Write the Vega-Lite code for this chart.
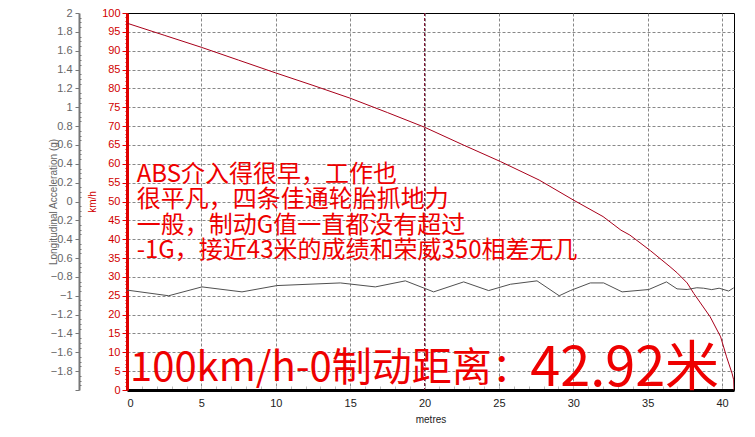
{
  "$schema": "https://vega.github.io/schema/vega-lite/v6.json",
  "width": 607,
  "height": 377,
  "autosize": {"type": "none"},
  "padding": {"left": 127, "top": 13, "right": 21, "bottom": 47},
  "background": "white",
  "config": {
    "view": {"stroke": "#000000", "strokeWidth": 1},
    "font": "Liberation Sans",
    "axis": {"labelFont": "Liberation Sans", "titleFont": "Liberation Sans", "labelOverlap": false, "labelBound": false}
  },
  "datasets": {
    "speed": [
      {"m": 0, "v": 97.3}, {"m": 2.5, "v": 94.1}, {"m": 5, "v": 90.9}, {"m": 7.5, "v": 87.5},
      {"m": 10, "v": 84.1}, {"m": 12.5, "v": 80.8}, {"m": 15, "v": 77.4}, {"m": 17.5, "v": 73.6},
      {"m": 20, "v": 69.7}, {"m": 22.6, "v": 65.0}, {"m": 25.1, "v": 60.6}, {"m": 27.7, "v": 55.7},
      {"m": 30, "v": 50.4}, {"m": 32, "v": 46.0}, {"m": 33.2, "v": 42.4}, {"m": 33.8, "v": 41.1},
      {"m": 35.2, "v": 36.9}, {"m": 36.5, "v": 32.7}, {"m": 37, "v": 31.0}, {"m": 37.65, "v": 28.4},
      {"m": 38.1, "v": 25.6}, {"m": 39.2, "v": 19.4}, {"m": 39.9, "v": 14.1}, {"m": 40.3, "v": 8.8},
      {"m": 40.67, "v": 4.4}, {"m": 40.78, "v": 2.7}, {"m": 40.8, "v": 0}
    ],
    "accel": [
      {"m": 0, "g": -0.94}, {"m": 2.8, "g": -1.0}, {"m": 5.04, "g": -0.906}, {"m": 7.73, "g": -0.959},
      {"m": 10.08, "g": -0.892}, {"m": 14.34, "g": -0.864}, {"m": 16.69, "g": -0.906}, {"m": 18.71, "g": -0.842},
      {"m": 20.05, "g": -0.924}, {"m": 20.61, "g": -0.959}, {"m": 22.63, "g": -0.853}, {"m": 24.31, "g": -0.945},
      {"m": 25.77, "g": -0.878}, {"m": 27.56, "g": -0.842}, {"m": 29.05, "g": -1.0}, {"m": 29.8, "g": -0.945},
      {"m": 31.14, "g": -0.864}, {"m": 32.04, "g": -0.864}, {"m": 33.28, "g": -0.959}, {"m": 35.07, "g": -0.934},
      {"m": 36.26, "g": -0.853}, {"m": 36.97, "g": -0.927}, {"m": 37.65, "g": -0.934}, {"m": 38.3, "g": -0.915},
      {"m": 38.76, "g": -0.92}, {"m": 39.3, "g": -0.935}, {"m": 39.8, "g": -0.92}, {"m": 40.44, "g": -0.95},
      {"m": 40.78, "g": -0.916}
    ]
  },
  "layer": [
    {
      "layer": [
        {
          "data": {"name": "speed"},
          "mark": {"type": "line", "color": "#a8001a", "strokeWidth": 1, "clip": true},
          "encoding": {
            "x": {
              "field": "m", "type": "quantitative",
              "scale": {"domain": [0, 40.8], "nice": false, "zero": false},
              "axis": {
                "title": "metres", "titleFontSize": 10, "titleFontWeight": "normal", "titleColor": "#222", "titlePadding": 6,
                "tickCount": 1000,
                "values": [0,1,2,3,4,5,6,7,8,9,10,11,12,13,14,15,16,17,18,19,20,21,22,23,24,25,26,27,28,29,30,31,32,33,34,35,36,37,38,39,40],
                "labelExpr": "datum.value % 5 === 0 ? format(datum.value, 'd') : ''",
                "labelFontSize": 11, "labelColor": "#222", "labelPadding": 11,
                "domainColor": "#000", "domainWidth": 3,
                "tickColor": "#bbbbbb", "tickSize": -4, "tickWidth": 1,
                "grid": true, "gridColor": "#888888", "gridDash": [3, 2],
                "gridOpacity": {"condition": {"test": "datum.value % 5 === 0 && datum.value > 0", "value": 1}, "value": 0}
              }
            },
            "y": {
              "field": "v", "type": "quantitative",
              "scale": {"domain": [0, 100], "nice": false},
              "axis": {
                "orient": "left", "offset": 0,
                "title": "km/h", "titleFontSize": 10, "titleFontWeight": "normal", "titleColor": "#d00000",
                "titleX": -30, "titleBaseline": "bottom",
                "tickCount": 1000,
                "values": [0,1,2,3,4,5,6,7,8,9,10,11,12,13,14,15,16,17,18,19,20,21,22,23,24,25,26,27,28,29,30,31,32,33,34,35,36,37,38,39,40,41,42,43,44,45,46,47,48,49,50,51,52,53,54,55,56,57,58,59,60,61,62,63,64,65,66,67,68,69,70,71,72,73,74,75,76,77,78,79,80,81,82,83,84,85,86,87,88,89,90,91,92,93,94,95,96,97,98,99,100],
                "labelExpr": "datum.value % 5 === 0 ? format(datum.value, 'd') : ''",
                "labelFontSize": 11, "labelColor": "#d00000", "labelPadding": 2,
                "domainColor": "#e00000", "domainWidth": 3,
                "tickColor": "#e00000",
                "tickSize": {"condition": {"test": "datum.value % 5 === 0", "value": 5}, "value": 2},
                "grid": true, "gridColor": "#888888", "gridDash": [3, 2],
                "gridOpacity": {"condition": {"test": "datum.value % 5 === 0 && datum.value > 0 && datum.value < 100", "value": 1}, "value": 0}
              }
            }
          }
        },
        {
          "data": {"values": [{}]},
          "mark": {"type": "rule", "color": "#7a0a2a", "strokeDash": [3, 2], "strokeWidth": 1},
          "encoding": {"x": {"datum": 20, "type": "quantitative"}}
        },
        {
          "data": {"values": [{}]},
          "mark": {
            "type": "text", "align": "left", "baseline": "alphabetic",
            "font": "Noto Sans CJK SC", "fontSize": 24, "lineHeight": 25.5, "color": "#ee0000",
            "text": ["ABS介入得很早，工作也", "很平凡，四条佳通轮胎抓地力", "一般，制动G值一直都没有超过", "-1G，接近43米的成绩和荣威350相差无几"]
          },
          "encoding": {
            "x": {"datum": 0.65, "type": "quantitative"},
            "y": {"datum": 55.2, "type": "quantitative"}
          }
        },
        {
          "data": {"values": [{}]},
          "mark": {
            "type": "text", "align": "left", "baseline": "alphabetic",
            "font": "Noto Sans CJK SC", "fontSize": 40, "color": "#ee0000",
            "text": "100km/h-0制动距离："
          },
          "encoding": {
            "x": {"datum": 0.2, "type": "quantitative"},
            "y": {"datum": 2.4, "type": "quantitative"}
          }
        },
        {
          "data": {"values": [{}]},
          "mark": {
            "type": "text", "align": "right", "baseline": "alphabetic",
            "font": "Noto Sans CJK SC", "fontSize": 54, "color": "#ee0000",
            "text": "42.92米"
          },
          "encoding": {
            "x": {"datum": 39.8, "type": "quantitative"},
            "y": {"datum": 1.1, "type": "quantitative"}
          }
        }
      ]
    },
    {
      "data": {"name": "accel"},
      "mark": {"type": "line", "color": "#505050", "strokeWidth": 1},
      "encoding": {
        "x": {"field": "m", "type": "quantitative", "scale": {"domain": [0, 40.8], "nice": false, "zero": false}, "title": "metres"},
        "y": {
          "field": "g", "type": "quantitative",
          "scale": {"domain": [-2, 2], "nice": false},
          "axis": {
            "orient": "left", "offset": 48,
            "title": "Longitudinal Acceleration (g)", "titleFontSize": 10, "titleFontWeight": "normal", "titleColor": "#666666",
            "titleX": -21, "titleBaseline": "bottom",
            "tickCount": 1000,
            "values": [-2,-1.95,-1.9,-1.85,-1.8,-1.75,-1.7,-1.65,-1.6,-1.55,-1.5,-1.45,-1.4,-1.35,-1.3,-1.25,-1.2,-1.15,-1.1,-1.05,-1,-0.95,-0.9,-0.85,-0.8,-0.75,-0.7,-0.65,-0.6,-0.55,-0.5,-0.45,-0.4,-0.35,-0.3,-0.25,-0.2,-0.15,-0.1,-0.05,0,0.05,0.1,0.15,0.2,0.25,0.3,0.35,0.4,0.45,0.5,0.55,0.6,0.65,0.7,0.75,0.8,0.85,0.9,0.95,1,1.05,1.1,1.15,1.2,1.25,1.3,1.35,1.4,1.45,1.5,1.55,1.6,1.65,1.7,1.75,1.8,1.85,1.9,1.95,2],
            "labelExpr": "round(datum.value*100) % 20 === 0 && datum.value > -1.99 ? format(datum.value, '~g') : ''",
            "labelFontSize": 11, "labelColor": "#666666", "labelPadding": 3,
            "domainColor": "#777777", "domainWidth": 2,
            "tickColor": "#777777",
            "tickSize": {"condition": {"test": "round(datum.value*100) % 20 === 0", "value": 4}, "value": -2},
            "grid": false
          }
        }
      }
    }
  ],
  "resolve": {"scale": {"y": "independent"}}
}
